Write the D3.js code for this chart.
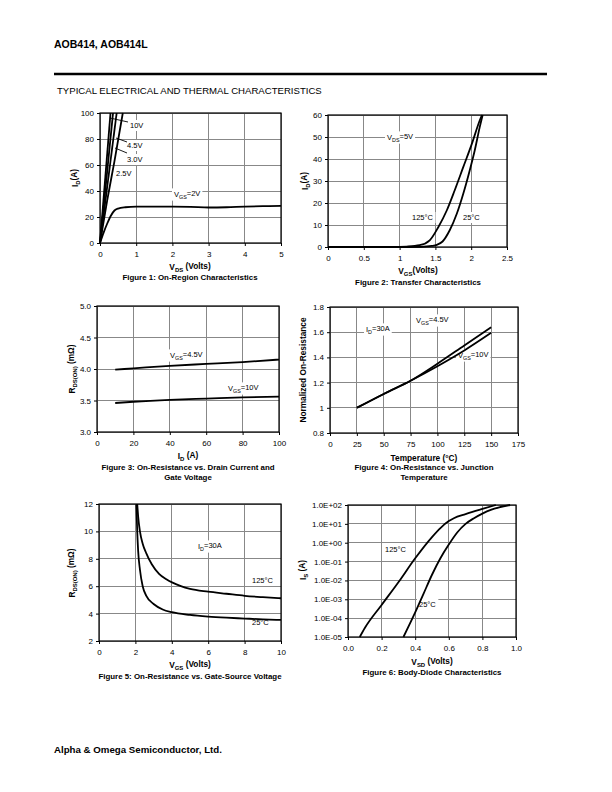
<!DOCTYPE html>
<html><head><meta charset="utf-8">
<script src="https://cdn.jsdelivr.net/npm/d3@7"></script>
<style>
body{margin:0;background:#fff;}
svg{display:block;font-family:"Liberation Sans",Arial,sans-serif;}
</style></head>
<body>
<svg id="c" width="612" height="792"></svg>
<script>
// ---------- DATA ----------
// Figure 1: On-region characteristics  [VDS, ID]
const fig1Vgs10 = [[0,0],[0.29,100]];
const fig1Vgs45 = [[0,0],[0.36,100]];
const fig1Vgs30 = [[0,0],[0.46,100]];
const fig1Vgs25 = [[0,0],[0.2,33],[0.4,63],[0.63,100]];
const fig1Vgs2  = [[0,0],[0.1,8],[0.2,15],[0.3,21],[0.4,25],[0.5,26.5],[0.7,27.5],[1,28],[1.5,28],[2,28],[2.5,27.8],[3,27.3],[3.5,27.5],[4,28],[4.5,28.3],[5,28.5]];
const fig1XTicks = [0,1,2,3,4,5];
const fig1YTicks = [0,20,40,60,80,100];

// Figure 2: Transfer characteristics [VGS, ID]
const fig2T25  = [[0,0],[1.0,0],[1.3,0.1],[1.45,0.5],[1.52,1],[1.6,2.5],[1.7,7.6],[1.8,15.2],[1.89,24.3],[1.98,34.9],[2.05,44],[2.12,54.6],[2.16,60]];
const fig2T125 = [[0,0],[0.9,0],[1.1,0.2],[1.28,0.8],[1.42,3],[1.54,9],[1.66,16.7],[1.77,25.8],[1.89,36.4],[2.01,47],[2.12,57.6],[2.15,60]];
const fig2XTicks = [0,0.5,1,1.5,2,2.5];
const fig2XLabels = ["0","0.5","1","1.5","2","2.5"];
const fig2YTicks = [0,10,20,30,40,50,60];

// Figure 3: On-resistance vs drain current [ID, RDS(ON)]
const fig3V45 = [[10,3.99],[20,4.01],[40,4.05],[60,4.08],[80,4.11],[100,4.15]];
const fig3V10 = [[10,3.46],[20,3.48],[40,3.51],[60,3.53],[80,3.55],[100,3.56]];
const fig3XTicks = [0,20,40,60,80,100];
const fig3YTicks = [3.0,3.5,4.0,4.5,5.0];
const fig3YLabels = ["3.0","3.5","4.0","4.5","5.0"];

// Figure 4: Normalized on-resistance vs temperature
const fig4V45 = [[25,1.0],[50,1.11],[75,1.215],[100,1.35],[125,1.495],[150,1.64]];
const fig4V10 = [[25,1.0],[50,1.11],[75,1.215],[100,1.33],[125,1.455],[150,1.595]];
const fig4XTicks = [0,25,50,75,100,125,150,175];
const fig4YTicks = [0.8,1.0,1.2,1.4,1.6,1.8];
const fig4YLabels = ["0.8","1","1.2","1.4","1.6","1.8"];

// Figure 5: On-resistance vs gate-source voltage [VGS, RDS(ON)]
const fig5T125 = [[2.1,12],[2.15,11.1],[2.25,10.0],[2.4,9.1],[2.6,8.4],[2.9,7.6],[3.3,6.9],[3.7,6.5],[4.5,6.0],[5,5.8],[6,5.6],[7,5.45],[8,5.3],[9,5.2],[10,5.12]];
const fig5T25  = [[2.05,12],[2.1,10],[2.15,8.6],[2.25,7.2],[2.4,6.0],[2.6,5.3],[3,4.7],[3.5,4.3],[4,4.1],[5,3.9],[6,3.78],[7,3.7],[8,3.64],[9,3.58],[10,3.54]];
const fig5XTicks = [0,2,4,6,8,10];
const fig5YTicks = [2,4,6,8,10,12];

// Figure 6: Body-diode characteristics [VSD, IS]
const fig6T125 = [[0.07,1e-5],[0.1,3e-5],[0.2,5e-4],[0.3,8e-3],[0.4,0.15],[0.5,2],[0.55,6],[0.6,14],[0.63,20],[0.7,33],[0.8,62],[0.88,100]];
const fig6T25  = [[0.33,1e-5],[0.4,2e-4],[0.45,2e-3],[0.5,0.02],[0.55,0.15],[0.6,0.8],[0.65,3.5],[0.7,10],[0.75,20],[0.8,35],[0.85,55],[0.9,75],[0.965,100]];
const fig6XTicks = [0,0.2,0.4,0.6,0.8,1.0];
const fig6XLabels = ["0.0","0.2","0.4","0.6","0.8","1.0"];
const fig6YTicks = [1e-5,1e-4,1e-3,1e-2,1e-1,1e0,1e1,1e2];
const fig6YLabels = ["1.0E-05","1.0E-04","1.0E-03","1.0E-02","1.0E-01","1.0E+00","1.0E+01","1.0E+02"];

// ---------- DRAWING ----------
const svg = d3.select("#c");
svg.append("rect").attr("width",612).attr("height",792).attr("fill","#fff");
const FONT = "8px";

// page header / footer
svg.append("text").attr("x",54).attr("y",48).attr("font-size","10.5px").attr("font-weight","bold").text("AOB414, AOB414L");
svg.append("line").attr("x1",54).attr("x2",547).attr("y1",74).attr("y2",74).attr("stroke","#000").attr("stroke-width",2.4);
svg.append("text").attr("x",57).attr("y",94).attr("font-size","9.6px").text("TYPICAL ELECTRICAL AND THERMAL CHARACTERISTICS");
svg.append("text").attr("x",54).attr("y",753).attr("font-size","9.7px").attr("font-weight","bold").text("Alpha & Omega Semiconductor, Ltd.");

function addRich(g, parts){
  let prevSub=false;
  parts.forEach(([t,sub])=>{
    const ts = g.append("tspan").text(t);
    if(sub){ ts.attr("font-size","0.72em").attr("dy","0.3em"); prevSub=true; }
    else if(prevSub){ ts.attr("dy","-0.3em"); prevSub=false; }
  });
}

function panel(o){
  const g = svg.append("g");
  const x = d3.scaleLinear().domain(o.xd).range([o.x0,o.x1]);
  const y = (o.log? d3.scaleLog(): d3.scaleLinear()).domain(o.yd).range([o.y1,o.y0]);
  g.selectAll(".vg").data(o.xt).enter().append("line")
    .attr("x1",d=>x(d)).attr("x2",d=>x(d)).attr("y1",o.y0).attr("y2",o.y1)
    .attr("stroke","#888").attr("stroke-width",1).attr("shape-rendering","crispEdges");
  g.selectAll(".hg").data(o.yt).enter().append("line")
    .attr("x1",o.x0).attr("x2",o.x1).attr("y1",d=>y(d)).attr("y2",d=>y(d))
    .attr("stroke","#888").attr("stroke-width",1).attr("shape-rendering","crispEdges");
  const xa = d3.axisBottom(x).tickValues(o.xt).tickSize(3).tickFormat((d,i)=>o.xl?o.xl[i]:String(d));
  const ya = d3.axisLeft(y).tickValues(o.yt).tickSize(3).tickFormat((d,i)=>o.yl?o.yl[i]:String(d));
  const gx = g.append("g").attr("transform",`translate(0,${o.y1})`).call(xa);
  const gy = g.append("g").attr("transform",`translate(${o.x0},0)`).call(ya);
  [gx,gy].forEach(a=>{
    a.select(".domain").remove();
    a.selectAll("text").attr("font-size",FONT).attr("font-family","Liberation Sans, Arial, sans-serif").attr("fill","#000");
    a.selectAll("line").attr("stroke","#000");
  });
  gx.selectAll("text").attr("dy","0").attr("y",14);
  gy.selectAll("text").attr("x",-6).attr("dy","0.32em");
  g.append("rect").attr("x",o.x0).attr("y",o.y0).attr("width",o.x1-o.x0).attr("height",o.y1-o.y0)
    .attr("fill","none").attr("stroke","#000").attr("stroke-width",1.2);
  return {g,x,y};
}

function curve(p, data, curveType, w){
  p.g.append("path").datum(data)
    .attr("d", d3.line().x(d=>p.x(d[0])).y(d=>p.y(d[1])).curve(curveType||d3.curveMonotoneX))
    .attr("fill","none").attr("stroke","#000").attr("stroke-width",w||1.8).attr("stroke-linejoin","round");
}

function label(p, xpx, ypx, parts, size){
  const t = p.g.append("text").attr("x",xpx).attr("y",ypx).attr("font-size",size||"7.5px");
  addRich(t, parts);
  const b = t.node().getBBox();
  p.g.insert("rect", function(){return t.node();})
    .attr("x",b.x-2).attr("y",b.y-1).attr("width",b.width+4).attr("height",b.height+2).attr("fill","#fff");
  return t;
}

function title(parts, xc, yb, rotate, size){
  const t = svg.append("text").attr("font-size",size||"8.3px").attr("font-weight","bold").attr("text-anchor","middle");
  if(rotate){ t.attr("transform",`translate(${xc},${yb}) rotate(-90)`); }
  else { t.attr("x",xc).attr("y",yb); }
  addRich(t, parts);
  return t;
}
const CAP = "7.9px";

// ----- Figure 1 -----
const p1 = panel({x0:100,x1:281,y0:113,y1:243,xd:[0,5],yd:[0,100],xt:fig1XTicks,yt:fig1YTicks});
label(p1,130,128,[["10V",false]]);
label(p1,127,148,[["4.5V",false]]);
label(p1,127,162,[["3.0V",false]]);
label(p1,116,176,[["2.5V",false]]);
label(p1,174,197,[["V",false],["GS",true],["=2V",false]]);
curve(p1, fig1Vgs10, d3.curveLinear);
curve(p1, fig1Vgs45, d3.curveLinear);
curve(p1, fig1Vgs30, d3.curveLinear);
curve(p1, fig1Vgs25, d3.curveMonotoneX);
curve(p1, fig1Vgs2, d3.curveMonotoneX);
[[110,118,128,122],[116,138,127,142],[115,148,127,153]].forEach(l=>{
  p1.g.append("line").attr("x1",l[0]).attr("y1",l[1]).attr("x2",l[2]).attr("y2",l[3]).attr("stroke","#000").attr("stroke-width",0.9);
});
title([["V",false],["DS",true],[" (Volts)",false]],190,270);
title([["Figure 1: On-Region Characteristics",false]],190,280,false,CAP);
title([["I",false],["D",true],["(A)",false]],78,178,true);

// ----- Figure 2 -----
const p2 = panel({x0:328,x1:507,y0:115,y1:247,xd:[0,2.5],yd:[0,60],xt:fig2XTicks,xl:fig2XLabels,yt:fig2YTicks});
label(p2,387,140,[["V",false],["DS",true],["=5V",false]]);
label(p2,412,220,[["125°C",false]]);
label(p2,463,220,[["25°C",false]]);
curve(p2, fig2T25);
curve(p2, fig2T125);
title([["V",false],["GS",true],["(Volts)",false]],418,274);
title([["Figure 2: Transfer Characteristics",false]],418,285,false,CAP);
title([["I",false],["D",true],["(A)",false]],308,181,true);

// ----- Figure 3 -----
const p3 = panel({x0:97,x1:279,y0:306,y1:432,xd:[0,100],yd:[3,5],xt:fig3XTicks,yt:fig3YTicks,yl:fig3YLabels});
label(p3,170,358,[["V",false],["GS",true],["=4.5V",false]]);
label(p3,228,391,[["V",false],["GS",true],["=10V",false]]);
curve(p3, fig3V45);
curve(p3, fig3V10);
title([["I",false],["D",true],[" (A)",false]],188,459);
title([["Figure 3: On-Resistance vs. Drain Current and",false]],188,470,false,CAP);
title([["Gate Voltage",false]],188,480,false,CAP);
title([["R",false],["DS(ON)",true],[" (mΩ)",false]],75,369,true);

// ----- Figure 4 -----
const p4 = panel({x0:330,x1:518,y0:307,y1:433,xd:[0,175],yd:[0.8,1.8],xt:fig4XTicks,yt:fig4YTicks,yl:fig4YLabels});
label(p4,366,332,[["I",false],["D",true],["=30A",false]]);
label(p4,416,323,[["V",false],["GS",true],["=4.5V",false]]);
label(p4,458,358,[["V",false],["GS",true],["=10V",false]]);
curve(p4, fig4V45);
curve(p4, fig4V10);
title([["Temperature (°C)",false]],424,461);
title([["Figure 4: On-Resistance vs. Junction",false]],424,470,false,CAP);
title([["Temperature",false]],424,480,false,CAP);
title([["Normalized On-Resistance",false]],306,370,true);

// ----- Figure 5 -----
const p5 = panel({x0:99,x1:281,y0:504,y1:641,xd:[0,10],yd:[2,12],xt:fig5XTicks,yt:fig5YTicks});
label(p5,198,549,[["I",false],["D",true],["=30A",false]]);
label(p5,252,583,[["125°C",false]]);
label(p5,252,625,[["25°C",false]]);
curve(p5, fig5T125);
curve(p5, fig5T25);
title([["V",false],["GS",true],[" (Volts)",false]],190,668);
title([["Figure 5: On-Resistance vs. Gate-Source Voltage",false]],190,679,false,CAP);
title([["R",false],["DS(ON)",true],[" (mΩ)",false]],75,573,true);

// ----- Figure 6 -----
const p6 = panel({x0:348,x1:516,y0:505,y1:637,xd:[0,1],yd:[1e-5,1e2],log:true,xt:fig6XTicks,xl:fig6XLabels,yt:fig6YTicks,yl:fig6YLabels});
label(p6,385,552,[["125°C",false]]);
label(p6,419,607,[["25°C",false]]);
curve(p6, fig6T125);
curve(p6, fig6T25);
title([["V",false],["SD",true],[" (Volts)",false]],432,665);
title([["Figure 6: Body-Diode Characteristics",false]],432,675,false,CAP);
title([["I",false],["S",true],[" (A)",false]],306,570,true);
</script>
</body></html>
